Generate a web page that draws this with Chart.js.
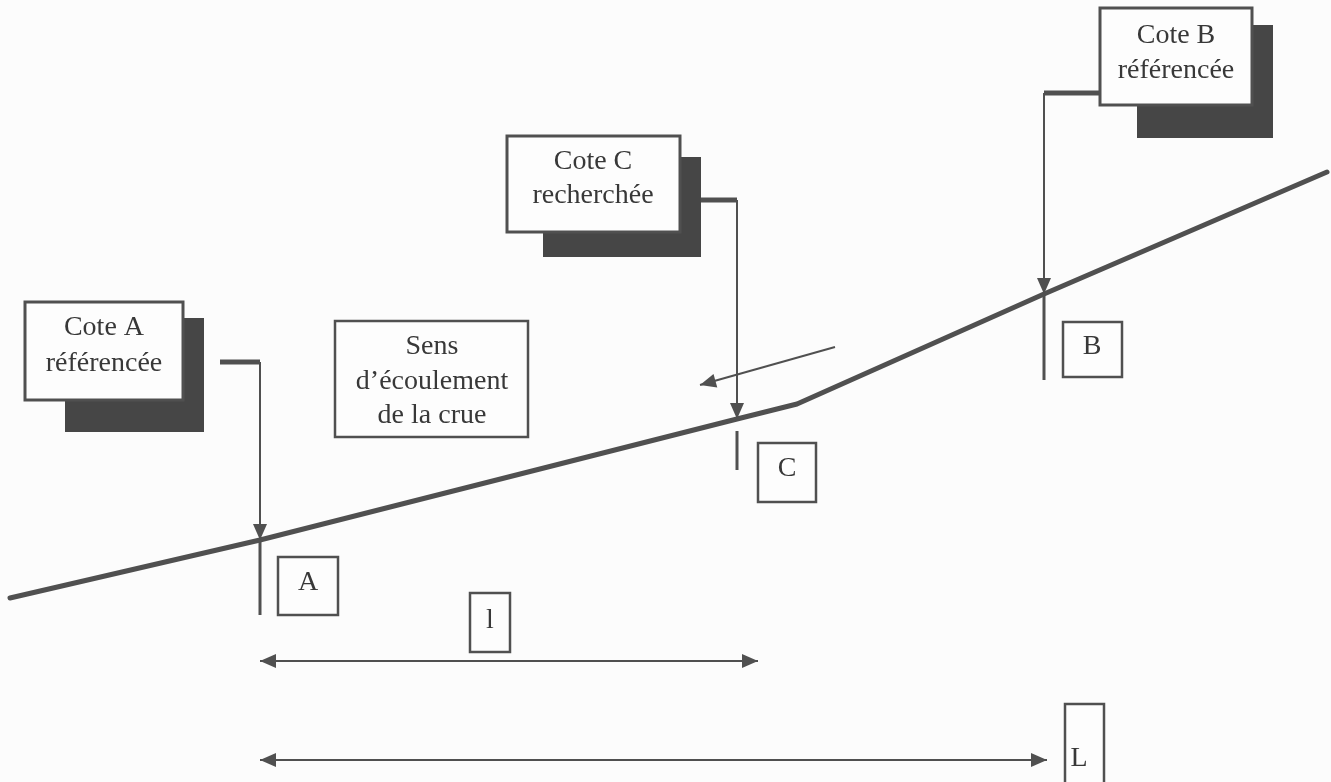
<!DOCTYPE html>
<html lang="fr">
<head>
  <meta charset="UTF-8">
  <title>Cotes de crue – interpolation</title>
  <style>
    *{box-sizing:border-box;margin:0;padding:0}
    body{background:#fcfcfc;width:1331px;height:782px;overflow:hidden}
    canvas{display:block}
  </style>
</head>
<body>
  <canvas id="schema" width="1331" height="782"></canvas>

  <script src="https://cdn.jsdelivr.net/npm/chart.js"></script>
  <script>
    // profil en long de la ligne d'eau (unites = px du schema, y vers le bas)
    const profileX = [10, 260, 737, 797, 1044, 1327];
    const profileY = [598, 540, 419, 404, 294, 172];

    // stations A, C, B : index du point du profil + depart du renvoi
    const stationNames = ['A', 'C', 'B'];
    const stationIndex = [1, 2, 4];
    const leaderX0 = [220, 701, 1100];
    const leaderY0 = [362, 200, 93];
    const tickY0 = [540, 431, 294];
    const tickY1 = [615, 470, 380];

    // cotes de distance l et L
    const dimNames = ['l', 'L'];
    const dimX0 = [260, 260];
    const dimX1 = [758, 1047];
    const dimY = [661, 760];

    // fleche du sens d'ecoulement
    const flowX = [835, 700];
    const flowY = [347, 385];

    const ink = '#505050';
    const textInk = '#383838';
    const font = '28px "Liberation Serif", "Times New Roman", serif';

    // cadres de texte (position de mise en page, pas des donnees)
    const frames = [
      {box:[25,302,183,400], shadow:[65,318,204,432], cx:104, lines:['Cote A','référencée'], base:[335,371], w:3},
      {box:[507,136,680,232], shadow:[543,157,701,257], cx:593, lines:['Cote C','recherchée'], base:[169,203], w:3},
      {box:[1100,8,1252,105], shadow:[1137,25,1273,138], cx:1176, lines:['Cote B','référencée'], base:[43,78], w:3},
      {box:[335,321,528,437], cx:432, lines:['Sens','d\u2019écoulement','de la crue'], base:[354,389,423], w:2.5},
      {box:[278,557,338,615], cx:308, lines:['A'], base:[590], w:2.5},
      {box:[758,443,816,502], cx:787, lines:['C'], base:[476], w:2.5},
      {box:[1063,322,1122,377], cx:1092, lines:['B'], base:[354], w:2.5},
      {box:[470,593,510,652], cx:490, lines:['l'], base:[628], w:2.5},
      {box:[1065,704,1104,800], cx:1079, lines:['L'], base:[766], w:2.5}
    ];

    const datasets = [];
    datasets.push({
      label:'profil',
      data: profileX.map((x,i)=>({x, y:profileY[i]})),
      borderColor: ink, borderWidth: 5, borderCapStyle:'round', borderJoinStyle:'round'
    });

    stationNames.forEach((n,i)=>{
      const k = stationIndex[i];
      const sx = profileX[k], sy = profileY[k];
      // palier horizontal epais
      datasets.push({label:'renvoi '+n, data:[{x:leaderX0[i],y:leaderY0[i]},{x:sx,y:leaderY0[i]}],
        borderColor: ink, borderWidth: 5});
      // descente fine avec pointe sur le profil
      datasets.push({label:'fleche '+n, data:[{x:sx,y:leaderY0[i]},{x:sx,y:sy}],
        borderColor: ink, borderWidth: 2, arrowEnd: true});
      // trait de repere sous le profil
      datasets.push({label:'repere '+n, data:[{x:sx,y:tickY0[i]},{x:sx,y:tickY1[i]}],
        borderColor: ink, borderWidth: 3});
    });

    dimNames.forEach((n,i)=>{
      datasets.push({label:'cote '+n, data:[{x:dimX0[i],y:dimY[i]},{x:dimX1[i],y:dimY[i]}],
        borderColor: ink, borderWidth: 2, arrowStart: true, arrowEnd: true});
    });

    datasets.push({label:'ecoulement', data: flowX.map((x,i)=>({x, y:flowY[i]})),
      borderColor: ink, borderWidth: 2, arrowEnd: true});

    datasets.forEach(d=>{ d.showLine = true; d.pointRadius = 0; d.clip = false; d.fill = false; });

    function arrowHead(ctx, tip, from, len, half){
      const a = Math.atan2(tip.y-from.y, tip.x-from.x);
      ctx.beginPath();
      ctx.moveTo(tip.x, tip.y);
      ctx.lineTo(tip.x - len*Math.cos(a) + half*Math.sin(a), tip.y - len*Math.sin(a) - half*Math.cos(a));
      ctx.lineTo(tip.x - len*Math.cos(a) - half*Math.sin(a), tip.y - len*Math.sin(a) + half*Math.cos(a));
      ctx.closePath();
      ctx.fill();
    }

    const schemaPlugin = {
      id:'schema',
      beforeDraw(chart){
        const c = chart.ctx;
        c.save(); c.fillStyle = '#fcfcfc'; c.fillRect(0,0,chart.width,chart.height); c.restore();
      },
      afterDatasetsDraw(chart){
        const c = chart.ctx, X = chart.scales.x, Y = chart.scales.y;
        c.save();
        c.fillStyle = ink;
        chart.data.datasets.forEach((d,i)=>{
          const pts = chart.getDatasetMeta(i).data;
          if(d.arrowEnd) arrowHead(c, pts[pts.length-1], pts[pts.length-2], 16, 7);
          if(d.arrowStart) arrowHead(c, pts[0], pts[1], 16, 7);
        });
        frames.forEach(f=>{
          if(f.shadow){
            const [x0,y0,x1,y1] = f.shadow;
            c.fillStyle = '#464646';
            c.fillRect(X.getPixelForValue(x0), Y.getPixelForValue(y0),
              X.getPixelForValue(x1)-X.getPixelForValue(x0), Y.getPixelForValue(y1)-Y.getPixelForValue(y0));
          }
          const [x0,y0,x1,y1] = f.box;
          const px = X.getPixelForValue(x0), py = Y.getPixelForValue(y0);
          const pw = X.getPixelForValue(x1)-px, ph = Y.getPixelForValue(y1)-py;
          c.fillStyle = '#fdfdfd';
          c.fillRect(px,py,pw,ph);
          c.strokeStyle = ink; c.lineWidth = f.w;
          c.strokeRect(px,py,pw,ph);
          c.fillStyle = textInk; c.font = font;
          c.textAlign = 'center'; c.textBaseline = 'alphabetic';
          f.lines.forEach((t,j)=> c.fillText(t, X.getPixelForValue(f.cx), Y.getPixelForValue(f.base[j])));
        });
        c.restore();
      }
    };

    new Chart(document.getElementById('schema'), {
      type:'scatter',
      data:{datasets},
      options:{
        responsive:false, animation:false,
        layout:{padding:0},
        plugins:{legend:{display:false}, tooltip:{enabled:false}},
        scales:{
          x:{type:'linear', min:0, max:1331, display:false},
          y:{type:'linear', min:0, max:782, reverse:true, display:false}
        }
      },
      plugins:[schemaPlugin]
    });
  </script>
</body>
</html>
